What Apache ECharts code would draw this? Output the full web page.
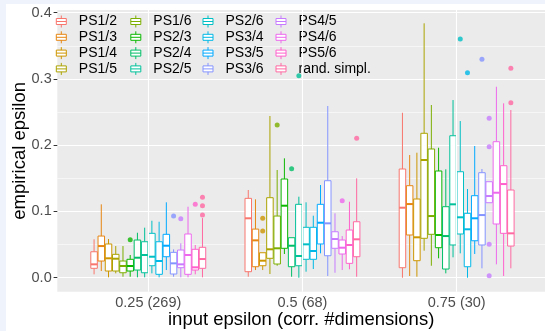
<!DOCTYPE html>
<html>
<head>
<meta charset="utf-8">
<script src="https://cdn.jsdelivr.net/npm/echarts@6/dist/echarts.min.js"></script>
<style>
  html, body { margin: 0; padding: 0; background: #eef3fc; }
  #chart { position: absolute; left: 6px; top: 4px; width: 539px; height: 327px; background: #fff; }
</style>
</head>
<body>
<div id="chart"></div>
<script>
const categories = ['0.25 (269)', '0.5 (68)', '0.75 (30)'];
const groups = ['PS1/2', 'PS1/3', 'PS1/4', 'PS1/5', 'PS1/6', 'PS2/3', 'PS2/4', 'PS2/5',
  'PS2/6', 'PS3/4', 'PS3/5', 'PS3/6', 'PS4/5', 'PS4/6', 'PS5/6', 'rand. simpl.'];
const yTicks = [0, 0.1, 0.2, 0.3, 0.4];

// per group: [lower whisker, Q1, median, Q3, upper whisker]
const stats025 = [
  [0.0051, 0.0142, 0.0202, 0.0392, 0.058],
  [0.0101, 0.0252, 0.0478, 0.0629, 0.1108],
  [0.0006, 0.0101, 0.0293, 0.0509, 0.0584],
  [0.0066, 0.0101, 0.0287, 0.0353, 0.0478],
  [0.0015, 0.0075, 0.0177, 0.0252, 0.0478],
  [0.0015, 0.0101, 0.0177, 0.0278, 0.0343],
  [0.0006, 0.0116, 0.0302, 0.0569, 0.0679],
  [0.0006, 0.0075, 0.0343, 0.0543, 0.0755],
  [0.0066, 0.0181, 0.0317, 0.067, 0.086],
  [0.0006, 0.0051, 0.0252, 0.0543, 0.0845],
  [0.0116, 0.0317, 0.0483, 0.0655, 0.1138],
  [0.0015, 0.0056, 0.0217, 0.0383, 0.0428],
  [0.0006, 0.0151, 0.0202, 0.0418, 0.0519],
  [0.0006, 0.0051, 0.0343, 0.066, 0.1072],
  [0.0051, 0.0116, 0.0157, 0.0429, 0.0494],
  [0.0006, 0.0142, 0.0282, 0.0459, 0.09]
];
const stats05 = [
  [0.0015, 0.0091, 0.0897, 0.1198, 0.1324],
  [0.0116, 0.0166, 0.0564, 0.0734, 0.1183],
  [0.0116, 0.0181, 0.0257, 0.0377, 0.0377],
  [0.0056, 0.0293, 0.0429, 0.1208, 0.2441],
  [0.0181, 0.0207, 0.0444, 0.0931, 0.1626],
  [0.0358, 0.0444, 0.1087, 0.149, 0.1802],
  [0.0015, 0.0166, 0.0483, 0.0604, 0.0604],
  [0.0, 0.0181, 0.0328, 0.1108, 0.1223],
  [0.0091, 0.0278, 0.0504, 0.0761, 0.1138],
  [0.0131, 0.0278, 0.0403, 0.0761, 0.0936],
  [0.0368, 0.0509, 0.083, 0.1108, 0.1399],
  [0.0026, 0.0332, 0.0821, 0.1464, 0.2592],
  [0.0075, 0.0444, 0.0584, 0.0694, 0.0972],
  [0.0116, 0.0358, 0.0453, 0.0569, 0.0629],
  [0.0127, 0.0217, 0.0494, 0.072, 0.1147],
  [0.0015, 0.0317, 0.058, 0.0845, 0.15]
];
const stats075 = [
  [0.0, 0.0151, 0.1057, 0.1641, 0.249],
  [0.0026, 0.0645, 0.1112, 0.1389, 0.1852],
  [0.0015, 0.0257, 0.061, 0.1188, 0.1887],
  [0.0408, 0.0595, 0.1777, 0.218, 0.384],
  [0.0181, 0.0655, 0.0931, 0.1943, 0.2607],
  [0.0293, 0.0453, 0.0645, 0.1611, 0.1962],
  [0.0066, 0.0131, 0.0629, 0.1072, 0.1636],
  [0.0308, 0.0494, 0.1108, 0.2143, 0.2682],
  [0.0368, 0.066, 0.0912, 0.16, 0.2365],
  [0.0, 0.0166, 0.0731, 0.0972, 0.1339],
  [0.0358, 0.0558, 0.0897, 0.1238, 0.1988],
  [0.0142, 0.0494, 0.0946, 0.1585, 0.1641],
  [0.1132, 0.1132, 0.1233, 0.1449, 0.1449],
  [0.0202, 0.0811, 0.1283, 0.2053, 0.2883],
  [0.0026, 0.067, 0.1414, 0.1691, 0.2632],
  [0.0142, 0.0478, 0.067, 0.1324, 0.2531]
];

// outliers: [group index, value]
const outliers025 = [[5, 0.0574], [11, 0.0931], [12, 0.089], [14, 0.1108], [15, 0.0946], [15, 0.1087], [15, 0.1214]];
const outliers05 = [[2, 0.0705], [2, 0.0897], [4, 0.2305], [6, 0.1645], [7, 0.3049], [13, 0.1162], [15, 0.2104]];
const outliers075 = [[8, 0.3603], [9, 0.3094], [11, 0.3297], [12, 0.2406], [12, 0.1977], [12, 0.0504], [12, 0.003], [15, 0.3161], [15, 0.2642]];

const colors = ['#F8766D', '#E68613', '#CD9600', '#ABA300', '#7CAE00', '#0CB702', '#00BE67', '#00C19A',
  '#00BFC4', '#00B8E7', '#00A9FF', '#8494FF', '#C77CFF', '#ED68ED', '#FF61CC', '#FF68A1'];

const FONT = '"Liberation Sans", Arial, Helvetica, sans-serif';
const dodge = 0.75 / groups.length;
const boxW = dodge * 0.9;
const xPos = (c, g) => c + 1 + (g - (groups.length - 1) / 2) * dodge;

const allStats = [stats025, stats05, stats075];
const allOutliers = [outliers025, outliers05, outliers075];

function renderBox(params, api) {
  const x = api.value(0);
  const lo = api.coord([x, api.value(1)]);
  const q1 = api.coord([x, api.value(2)]);
  const med = api.coord([x, api.value(3)]);
  const q3 = api.coord([x, api.value(4)]);
  const hi = api.coord([x, api.value(5)]);
  const half = api.size([boxW, 0])[0] / 2;
  const color = api.visual('color');
  return {
    type: 'group',
    children: [
      { type: 'line', shape: { x1: lo[0], y1: lo[1], x2: q1[0], y2: q1[1] }, style: { stroke: color, lineWidth: 1 } },
      { type: 'line', shape: { x1: q3[0], y1: q3[1], x2: hi[0], y2: hi[1] }, style: { stroke: color, lineWidth: 1 } },
      { type: 'rect', shape: { x: q3[0] - half, y: q3[1], width: half * 2, height: q1[1] - q3[1] },
        style: { fill: '#fff', stroke: color, lineWidth: 1 } },
      { type: 'line', shape: { x1: med[0] - half, y1: med[1], x2: med[0] + half, y2: med[1] },
        style: { stroke: color, lineWidth: 2 } }
    ]
  };
}

const series = [{
  type: 'line', data: [], silent: true, z: 1,
  markLine: {
    silent: true, symbol: 'none', label: { show: false }, animation: false,
    lineStyle: { color: '#fff', width: 1.1, type: 'solid' },
    emphasis: { disabled: true },
    data: [{ xAxis: 1 }, { xAxis: 2 }, { xAxis: 3 }]
  }
}];

groups.forEach((name, g) => {
  series.push({
    name: name,
    type: 'custom',
    z: 3,
    itemStyle: { color: colors[g] },
    renderItem: renderBox,
    encode: { x: 0, y: [1, 2, 3, 4, 5] },
    data: allStats.map((st, c) => [xPos(c, g)].concat(st[g]))
  });
});

const outlierData = [];
allOutliers.forEach((list, c) => {
  list.forEach(([g, v]) => {
    outlierData.push({ value: [xPos(c, g), v], itemStyle: { color: colors[g] } });
  });
});
series.push({
  name: 'outliers', type: 'scatter', z: 4, symbolSize: 5, silent: true,
  data: outlierData
});

const icon = 'path://M0 3L10 3L10 9L0 9Z M5 0L5 3 M5 9L5 12 M0 6L10 6';
const legendLefts = [49.8, 124.3, 196.5, 269.5];
const legends = legendLefts.map((left, col) => ({
  orient: 'vertical',
  left: left,
  top: 10.5,
  padding: 0,
  itemWidth: 25,
  itemHeight: 12,
  itemGap: 1.8,
  selectedMode: false,
  textStyle: { fontSize: 14, color: '#000', fontFamily: FONT },
  data: groups.slice(col * 4, col * 4 + 4).map((name, i) => ({
    name: name,
    icon: icon,
    itemStyle: { color: '#fff', borderColor: colors[col * 4 + i], borderWidth: 1 }
  }))
}));

const chart = echarts.init(document.getElementById('chart'));
chart.setOption({
  animation: false,
  textStyle: { fontFamily: FONT },
  grid: {
    left: 51.3, right: 0, top: 6, bottom: 39.3,
    outerBoundsMode: 'none',
    containLabel: false,
    show: true, backgroundColor: '#EBEBEB', borderWidth: 0
  },
  legend: legends,
  xAxis: {
    type: 'value',
    min: 0.41,
    max: 3.573,
    axisLine: { show: false },
    splitLine: { show: false },
    axisTick: { show: true, customValues: [1, 2, 3], length: 3.7, lineStyle: { color: '#333', width: 1 } },
    axisLabel: {
      customValues: [1, 2, 3],
      formatter: v => categories[Math.round(v) - 1],
      color: '#4D4D4D', fontSize: 14.5, margin: 4
    },
    name: 'input epsilon (corr. #dimensions)',
    nameLocation: 'middle',
    nameMoveOverlap: false,
    nameGap: 19,
    nameTextStyle: { fontSize: 18.5, color: '#000' }
  },
  yAxis: {
    type: 'value',
    min: -0.0211,
    max: 0.4041,
    axisLine: { show: false },
    axisTick: { show: true, customValues: yTicks, length: 3.7, lineStyle: { color: '#333', width: 1 } },
    axisLabel: {
      customValues: yTicks,
      formatter: v => v.toFixed(1),
      color: '#4D4D4D', fontSize: 14.5, margin: 5.6
    },
    splitLine: { show: true, lineStyle: { color: '#fff', width: 1.1 } },
    minorTick: { show: false, splitNumber: 2 },
    minorSplitLine: { show: true, lineStyle: { color: '#fff', width: 0.55 } },
    name: 'empirical epsilon',
    nameLocation: 'middle',
    nameMoveOverlap: false,
    nameGap: 28,
    nameTextStyle: { fontSize: 18.5, color: '#000' }
  },
  series: series
});
</script>
</body>
</html>
